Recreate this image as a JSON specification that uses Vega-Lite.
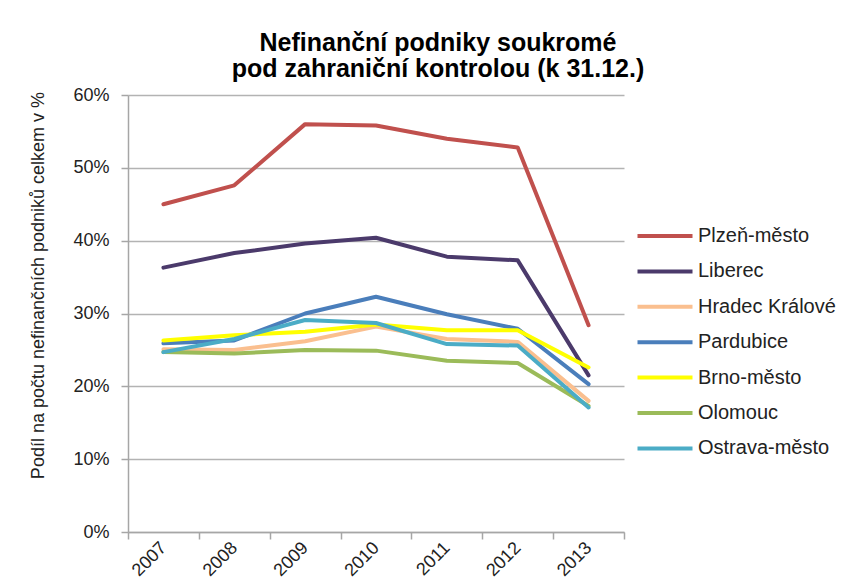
{
  "$schema": "https://vega.github.io/schema/vega-lite/v6.json",
  "autosize": {"type": "none"},
  "width": 496,
  "height": 437,
  "padding": {"left": 128, "top": 95, "right": 233, "bottom": 55},
  "background": "white",
  "title": {
    "text": ["Nefinanční podniky soukromé", "pod zahraniční kontrolou (k 31.12.)"],
    "font": "Liberation Sans",
    "fontSize": 25,
    "fontWeight": "bold",
    "color": "#000000",
    "anchor": "middle",
    "frame": "group",
    "dx": 62,
    "offset": 4,
    "lineHeight": 26
  },
  "config": {
    "font": "Liberation Sans",
    "view": {"stroke": null},
    "axis": {"labelFont": "Liberation Sans", "titleFont": "Liberation Sans"}
  },
  "data": {
    "values": [
      {"year": 2007, "region": "Plzeň-město", "value": 0.450},
      {"year": 2008, "region": "Plzeň-město", "value": 0.476},
      {"year": 2009, "region": "Plzeň-město", "value": 0.560},
      {"year": 2010, "region": "Plzeň-město", "value": 0.558},
      {"year": 2011, "region": "Plzeň-město", "value": 0.540},
      {"year": 2012, "region": "Plzeň-město", "value": 0.528},
      {"year": 2013, "region": "Plzeň-město", "value": 0.284},
      {"year": 2007, "region": "Liberec", "value": 0.363},
      {"year": 2008, "region": "Liberec", "value": 0.383},
      {"year": 2009, "region": "Liberec", "value": 0.396},
      {"year": 2010, "region": "Liberec", "value": 0.404},
      {"year": 2011, "region": "Liberec", "value": 0.378},
      {"year": 2012, "region": "Liberec", "value": 0.373},
      {"year": 2013, "region": "Liberec", "value": 0.215},
      {"year": 2007, "region": "Hradec Králové", "value": 0.251},
      {"year": 2008, "region": "Hradec Králové", "value": 0.250},
      {"year": 2009, "region": "Hradec Králové", "value": 0.262},
      {"year": 2010, "region": "Hradec Králové", "value": 0.282},
      {"year": 2011, "region": "Hradec Králové", "value": 0.265},
      {"year": 2012, "region": "Hradec Králové", "value": 0.261},
      {"year": 2013, "region": "Hradec Králové", "value": 0.180},
      {"year": 2007, "region": "Pardubice", "value": 0.259},
      {"year": 2008, "region": "Pardubice", "value": 0.263},
      {"year": 2009, "region": "Pardubice", "value": 0.300},
      {"year": 2010, "region": "Pardubice", "value": 0.323},
      {"year": 2011, "region": "Pardubice", "value": 0.299},
      {"year": 2012, "region": "Pardubice", "value": 0.279},
      {"year": 2013, "region": "Pardubice", "value": 0.203},
      {"year": 2007, "region": "Brno-město", "value": 0.263},
      {"year": 2008, "region": "Brno-město", "value": 0.270},
      {"year": 2009, "region": "Brno-město", "value": 0.275},
      {"year": 2010, "region": "Brno-město", "value": 0.285},
      {"year": 2011, "region": "Brno-město", "value": 0.277},
      {"year": 2012, "region": "Brno-město", "value": 0.277},
      {"year": 2013, "region": "Brno-město", "value": 0.226},
      {"year": 2007, "region": "Olomouc", "value": 0.247},
      {"year": 2008, "region": "Olomouc", "value": 0.245},
      {"year": 2009, "region": "Olomouc", "value": 0.250},
      {"year": 2010, "region": "Olomouc", "value": 0.249},
      {"year": 2011, "region": "Olomouc", "value": 0.235},
      {"year": 2012, "region": "Olomouc", "value": 0.232},
      {"year": 2013, "region": "Olomouc", "value": 0.173},
      {"year": 2007, "region": "Ostrava-město", "value": 0.247},
      {"year": 2008, "region": "Ostrava-město", "value": 0.265},
      {"year": 2009, "region": "Ostrava-město", "value": 0.291},
      {"year": 2010, "region": "Ostrava-město", "value": 0.287},
      {"year": 2011, "region": "Ostrava-město", "value": 0.258},
      {"year": 2012, "region": "Ostrava-město", "value": 0.256},
      {"year": 2013, "region": "Ostrava-město", "value": 0.171}
    ]
  },
  "mark": {"type": "line", "strokeWidth": 4, "strokeCap": "round", "strokeJoin": "round"},
  "encoding": {
    "x": {
      "field": "year",
      "type": "quantitative",
      "scale": {"domain": [2006.5, 2013.5], "nice": false, "zero": false},
      "axis": {
        "title": null,
        "values": [2006.5, 2007.5, 2008.5, 2009.5, 2010.5, 2011.5, 2012.5, 2013.5],
        "labelExpr": "datum.value > 2013 ? '' : '' + (datum.value + 0.5)",
        "labelOffset": 35.4,
        "labelAngle": -45,
        "labelAlign": "right",
        "labelBaseline": "middle",
        "labelFontSize": 18,
        "labelColor": "#222222",
        "labelPadding": 6,
        "labelOverlap": false,
        "labelFlush": false,
        "labelBound": false,
        "grid": false,
        "domainColor": "#a6a6a6",
        "domainWidth": 1.5,
        "tickColor": "#a6a6a6",
        "tickWidth": 1.5,
        "tickSize": 7
      }
    },
    "y": {
      "field": "value",
      "type": "quantitative",
      "scale": {"domain": [0, 0.6], "nice": false},
      "axis": {
        "values": [0, 0.1, 0.2, 0.3, 0.4, 0.5, 0.6],
        "format": ".0%",
        "title": "Podíl na počtu nefinančních podniků celkem v %",
        "titleFontSize": 18,
        "titleFontWeight": "normal",
        "titleColor": "#222222",
        "titleAngle": -90,
        "titleX": -90,
        "titleY": 190,
        "titleAlign": "center",
        "titleBaseline": "middle",
        "labelFontSize": 18,
        "labelColor": "#222222",
        "labelPadding": 12,
        "grid": true,
        "gridColor": "#b3b3b3",
        "gridWidth": 1.5,
        "domainColor": "#a6a6a6",
        "domainWidth": 1.5,
        "tickColor": "#a6a6a6",
        "tickWidth": 1.5,
        "tickSize": 7
      }
    },
    "color": {
      "field": "region",
      "type": "nominal",
      "scale": {
        "domain": ["Plzeň-město", "Liberec", "Hradec Králové", "Pardubice", "Brno-město", "Olomouc", "Ostrava-město"],
        "range": ["#c0504d", "#4b3a6b", "#fabf8f", "#4a7ebb", "#ffff00", "#9bbb59", "#4bacc6"]
      },
      "legend": {
        "title": null,
        "orient": "none",
        "legendX": 524,
        "legendY": 128,
        "padding": 0,
        "symbolType": "M-2.5,0H2.5",
        "symbolSize": 484,
        "symbolStrokeWidth": 4,
        "labelFontSize": 20,
        "labelColor": "#222222",
        "labelOffset": 20,
        "rowPadding": 12.4
      }
    }
  }
}
